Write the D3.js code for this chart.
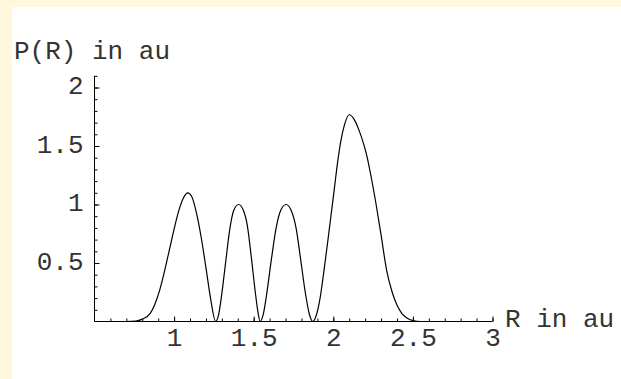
<!DOCTYPE html>
<html>
<head>
<meta charset="utf-8">
<script src="https://cdn.jsdelivr.net/npm/d3@7"></script>
<style>
  html, body { margin: 0; padding: 0; background: #ffffff; }
  svg { display: block; }
  text { font-family: "Liberation Mono", "Courier New", monospace; fill: #333333; }
</style>
</head>
<body>
<svg id="chart" width="621" height="379"></svg>
<script>
// ---- data ----
const rValues = [0.5, 0.7, 0.76, 0.80, 0.85, 0.88, 0.91, 0.94, 0.97, 1.00, 1.03, 1.06, 1.085, 1.11, 1.14, 1.17, 1.20, 1.23, 1.261,
  1.28, 1.30, 1.325, 1.351, 1.375, 1.405, 1.435, 1.46, 1.485, 1.51, 1.528, 1.54,
  1.56, 1.58, 1.61, 1.641, 1.67, 1.703, 1.735, 1.766, 1.795, 1.825, 1.85, 1.871,
  1.89, 1.917, 1.94, 1.963, 1.985, 2.007, 2.027, 2.047, 2.07, 2.10, 2.13, 2.16, 2.19, 2.21, 2.24, 2.269, 2.30, 2.336, 2.37, 2.40, 2.43, 2.462, 2.50, 2.55, 2.8];
const pValues = [0, 0, 0.003, 0.02, 0.07, 0.15, 0.27, 0.43, 0.61, 0.79, 0.95, 1.06, 1.10, 1.07, 0.93, 0.72, 0.46, 0.19, 0,
  0.06, 0.24, 0.52, 0.80, 0.95, 1.0, 0.95, 0.82, 0.55, 0.25, 0.07, 0,
  0.06, 0.22, 0.52, 0.80, 0.95, 1.0, 0.95, 0.80, 0.53, 0.24, 0.06, 0,
  0.04, 0.20, 0.42, 0.66, 0.90, 1.14, 1.36, 1.54, 1.68, 1.767, 1.73, 1.64, 1.52, 1.42, 1.22, 1.0, 0.74, 0.43, 0.25, 0.14, 0.07, 0.03, 0.008, 0, 0];
const xTickLabels = [1, 1.5, 2, 2.5, 3];
const yTickLabels = [0.5, 1, 1.5, 2];
const xMinorTicks = d3.range(6, 31).map(d => d / 10);
const yMinorTicks = d3.range(1, 22).map(d => d / 10);
const xTitle = "R in au";
const yTitle = "P(R) in au";

const svg = d3.select("#chart");
const W = 621, H = 379;

// background frame
svg.append("rect").attr("x", 0).attr("y", 0).attr("width", W).attr("height", H).attr("fill", "#ffffff");
svg.append("rect").attr("x", 0).attr("y", 0).attr("width", W).attr("height", 7).attr("fill", "#fff8dc");
svg.append("rect").attr("x", 0).attr("y", 0).attr("width", 12).attr("height", H).attr("fill", "#fff8dc");

const x = d3.scaleLinear().domain([0.5, 3]).range([94.5, 492.5]);
const y = d3.scaleLinear().domain([0, 2.1]).range([321.5, 75.8]);

const fs = 26;
const txtFill = "#333333";

// x axis
const gx = svg.append("g").attr("transform", `translate(0,${y(0)})`);
gx.call(d3.axisBottom(x).tickValues(xMinorTicks).tickSize(-3).tickFormat("").tickSizeOuter(0));
gx.select(".domain").attr("d", `M${x(0.5)},0H${x(3)}`).attr("stroke", "#000");
gx.selectAll(".tick line").attr("stroke", "#000");
const gx2 = svg.append("g").attr("transform", `translate(0,${y(0)})`);
gx2.call(d3.axisBottom(x).tickValues(xTickLabels).tickSize(-5).tickPadding(6).tickFormat(d3.format("")).tickSizeOuter(0));
gx2.select(".domain").remove();
gx2.selectAll(".tick line").attr("stroke", "#000");
gx2.selectAll("text").attr("font-size", fs).attr("font-family", "Liberation Mono").attr("fill", txtFill);

// y axis
const gy = svg.append("g").attr("transform", `translate(${x(0.5)},0)`);
gy.call(d3.axisLeft(y).tickValues(yMinorTicks).tickSize(-3).tickFormat("").tickSizeOuter(0));
gy.select(".domain").attr("d", `M0,${y(0)}V${y(2.1)}`).attr("stroke", "#000");
gy.selectAll(".tick line").attr("stroke", "#000");
const gy2 = svg.append("g").attr("transform", `translate(${x(0.5)},0)`);
gy2.call(d3.axisLeft(y).tickValues(yTickLabels).tickSize(-5).tickPadding(11).tickFormat(d3.format("")).tickSizeOuter(0));
gy2.select(".domain").remove();
gy2.selectAll(".tick line").attr("stroke", "#000");
gy2.selectAll("text").attr("font-size", fs).attr("font-family", "Liberation Mono").attr("fill", txtFill).attr("dy", "0.24em");

// curve
const data = rValues.map((r, i) => [r, pValues[i]]);
const line = d3.line().x(d => x(d[0])).y(d => y(d[1])).curve(d3.curveMonotoneX);
svg.append("path").datum(data).attr("d", line).attr("fill", "none").attr("stroke", "#000").attr("stroke-width", 1.2);

// titles
svg.append("text").attr("x", 14).attr("y", 59).attr("font-size", fs).attr("fill", txtFill).text(yTitle);
svg.append("text").attr("x", 505).attr("y", 327).attr("font-size", fs).attr("fill", txtFill).text(xTitle);
</script>
</body>
</html>
